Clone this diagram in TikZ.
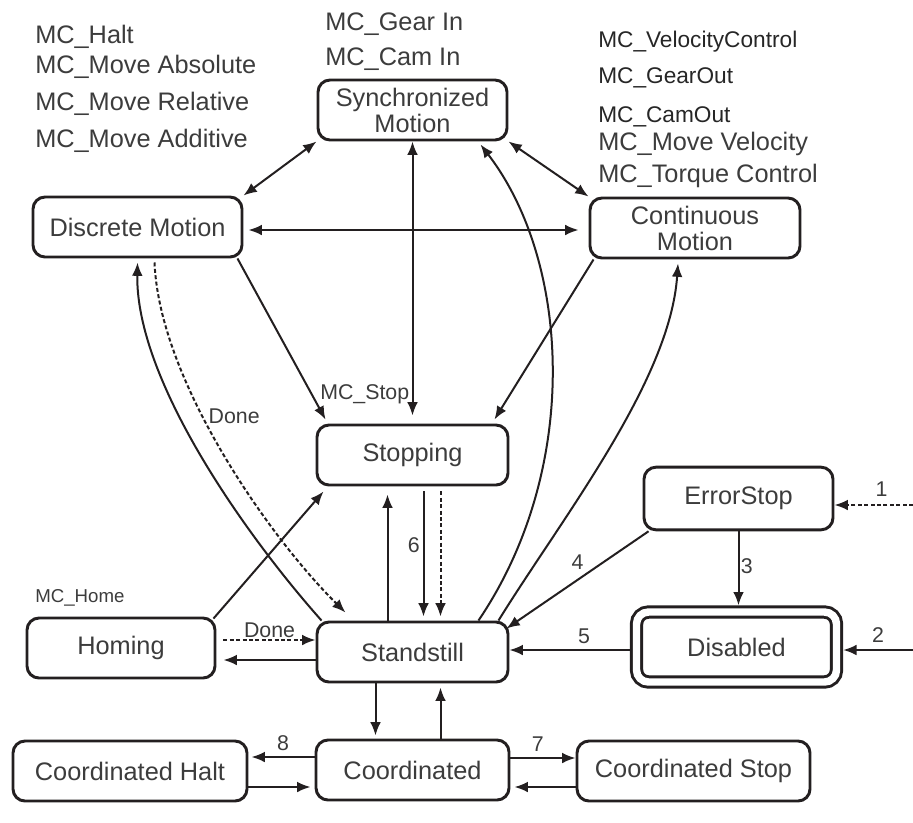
\documentclass[tikz,border=0pt]{standalone}
\usepackage{fontspec}
\setsansfont{Liberation Sans}
\usepackage{xcolor}
\usepackage{tikz}
\usetikzlibrary{arrows.meta, positioning, calc}

\definecolor{inkLine}{HTML}{231F20}
\definecolor{inkText}{HTML}{3C3C3C}

\begin{document}
\begin{tikzpicture}[
    x=0.75pt, y=-0.75pt,
    state/.style={draw=inkLine, line width=2.2pt, rectangle, rounded corners=9pt, minimum height=45pt, inner sep=0pt, align=center, text=inkText, font=\fontsize{19}{19.5}\selectfont\sffamily},
    cmd/.style={anchor=base west, inner sep=0pt, text=inkText, font=\fontsize{19}{20}\selectfont\sffamily},
    cmdNew/.style={anchor=base west, inner sep=0pt, text=black!85, font=\fontsize{17}{18}\selectfont\sffamily},
    tag/.style={inner sep=1pt, text=inkText, font=\fontsize{16}{17}\selectfont\sffamily},
    line/.style={draw=inkLine, line width=1.5pt, ->, >={Latex[length=10pt, width=8pt]}},
    biLine/.style={line, <->},
    dashLine/.style={line, dash pattern=on 3pt off 1.8pt}
]
    \useasboundingbox (0,0) rectangle (913,822);

    % Nodes
    \node[state, minimum width=141.75pt] (sync) at (412.5,110) {Synchronized\\Motion};
    \node[state, minimum width=156.75pt] (discrete) at (137.5,227) {Discrete Motion};
    \node[state, minimum width=157.5pt] (continuous) at (695,228) {Continuous\\Motion};
    \node[state, minimum width=143.25pt] (stopping) at (412.5,455) {Stopping};
    \node[state, minimum width=141.75pt, minimum height=47pt] (errorstop) at (738.5,498.5) {ErrorStop};
    \node[state, minimum width=143.25pt] (standstill) at (412.5,652) {Standstill};
    \node[state, minimum width=141pt] (homing) at (121,648) {Homing};
    \node[state, minimum width=150pt, minimum height=52.5pt, double, double distance=5.6pt, outer sep=5pt] (disabled) at (736.5,647) {Disabled};
    \node[state, minimum width=144.75pt] (coord) at (412.5,770) {Coordinated};
    \node[state, minimum width=175.5pt] (coordHalt) at (130,771) {Coordinated Halt};
    \node[state, minimum width=174.75pt] (coordStop) at (693.5,771) {Coordinated Stop};
    \coordinate (errIn) at (913,505);
    \coordinate (disIn) at (913,650);

    % Function blocks
    \node[cmd] (cmdHalt) at (35,43) {MC\_Halt};
    \node[cmd] (cmdAbs) at (35,73) {MC\_Move Absolute};
    \node[cmd] (cmdRel) at (35,110) {MC\_Move Relative};
    \node[cmd] (cmdAdd) at (35,147) {MC\_Move Additive};
    \node[cmd] (cmdGearIn) at (325,30) {MC\_Gear In};
    \node[cmd] (cmdCamIn) at (325,65) {MC\_Cam In};
    \node[cmdNew] (cmdVelCtrl) at (598,47) {MC\_VelocityControl};
    \node[cmdNew] (cmdGearOut) at (598,83) {MC\_GearOut};
    \node[cmdNew] (cmdCamOut) at (598,122) {MC\_CamOut};
    \node[cmd] (cmdVel) at (598,150) {MC\_Move Velocity};
    \node[cmd] (cmdTorque) at (598,182) {MC\_Torque Control};
    \node[cmd, font=\fontsize{16}{17}\selectfont\sffamily] (cmdStop) at (320,399) {MC\_Stop};
    \node[cmd, font=\fontsize{14}{15}\selectfont\sffamily] (cmdHome) at (35,602) {MC\_Home};

    % Connections
    \draw[biLine] (discrete.north east) -- (sync.south west);
    \draw[biLine] (sync.south east) -- (continuous.north west);
    \draw[biLine] ([shift={(5,3)}]discrete.east) -- ([shift={(-10,2)}]continuous.west);
    \draw[biLine, shorten >=6pt] (sync.south) -- (sync.south |- stopping.north);
    \draw[line] ([shift={(-6,0)}]discrete.south east) -- ([shift={(10,-4)}]stopping.north west);
    \draw[line] ([shift={(5,0)}]continuous.south west) -- ([shift={(-15,-4)}]stopping.north east);
    \draw[line] ([shift={(-31,0)}]standstill.north east) .. controls +(103,-152) and +(90,117) .. ([shift={(-28,3)}]sync.south east);
    \draw[line] ([shift={(-11,0)}]standstill.north east) .. controls +(63,-102) and +(-8,118) .. ([shift={(-17,4)}]continuous.south);
    \draw[line] ([shift={(6,0)}]standstill.north west) .. controls +(-73,-82) and +(-2,119) .. ([shift={(0,4)}]discrete.south);
    \draw[dashLine] ([shift={(17,4)}]discrete.south) .. controls +(5,119) and +(-75,-74) .. ([shift={(-67,-8)}]standstill.north)
        node[tag, pos=0.4, right=3pt] (doneA) {Done};
    \draw[line] ([shift={(-3,2)}]homing.north east) -- ([shift={(8,5)}]stopping.south west);

    \draw[line] ([shift={(-25,0)}]standstill.north) -- ([shift={(-25,8)}]stopping.south);
    \draw[line] ([shift={(11,5)}]stopping.south) -- node[tag, pos=0.43, left=1pt] (six) {6} ([shift={(11,-4)}]standstill.north);
    \draw[dashLine] ([shift={(28,5)}]stopping.south) -- ([shift={(28,-4)}]standstill.north);

    \draw[dashLine] ([shift={(7,-8)}]homing.east) -- node[tag, above=0pt] (doneB) {Done} ([shift={(0,-12)}]standstill.west);
    \draw[line] ([shift={(0,8)}]standstill.west) -- ([shift={(7,12)}]homing.east);

    \draw[line] ([shift={(-37,0)}]standstill.south) -- ([shift={(-37,-3)}]coord.north);
    \draw[line] ([shift={(28,0)}]coord.north) -- ([shift={(28,4)}]standstill.south);
    \draw[line] ([shift={(0,-13)}]coord.west) -- node[tag, above=3pt] (eight) {8} ([shift={(3,-14)}]coordHalt.east);
    \draw[line] ([shift={(0,16)}]coordHalt.east) -- ([shift={(-4,17)}]coord.west);
    \draw[line] ([shift={(0,-12)}]coord.east) -- node[tag, pos=0.42, above=3pt] (seven) {7} ([shift={(0,-13)}]coordStop.west);
    \draw[line] ([shift={(0,16)}]coordStop.west) -- ([shift={(4,17)}]coord.east);

    \draw[line] ([shift={(6,0)}]errorstop.south west) -- node[tag, above=6pt] (four) {4} ([shift={(-3,8)}]standstill.north east);
    \draw[line] (errorstop.south) -- node[tag, pos=0.47, right=0pt] (three) {3} (errorstop.south |- disabled.north);
    \draw[line] ([shift={(0,3)}]disabled.west) -- node[tag, pos=0.38, above=3pt] (five) {5} ([shift={(0,-2)}]standstill.east);
    \draw[line] (disIn) -- node[tag, above=4pt] (two) {2} (disIn -| disabled.east);
    \draw[dashLine] (errIn) -- node[tag, pos=0.4, above=5pt] (one) {1} (errIn -| errorstop.east);

\end{tikzpicture}
\end{document}
